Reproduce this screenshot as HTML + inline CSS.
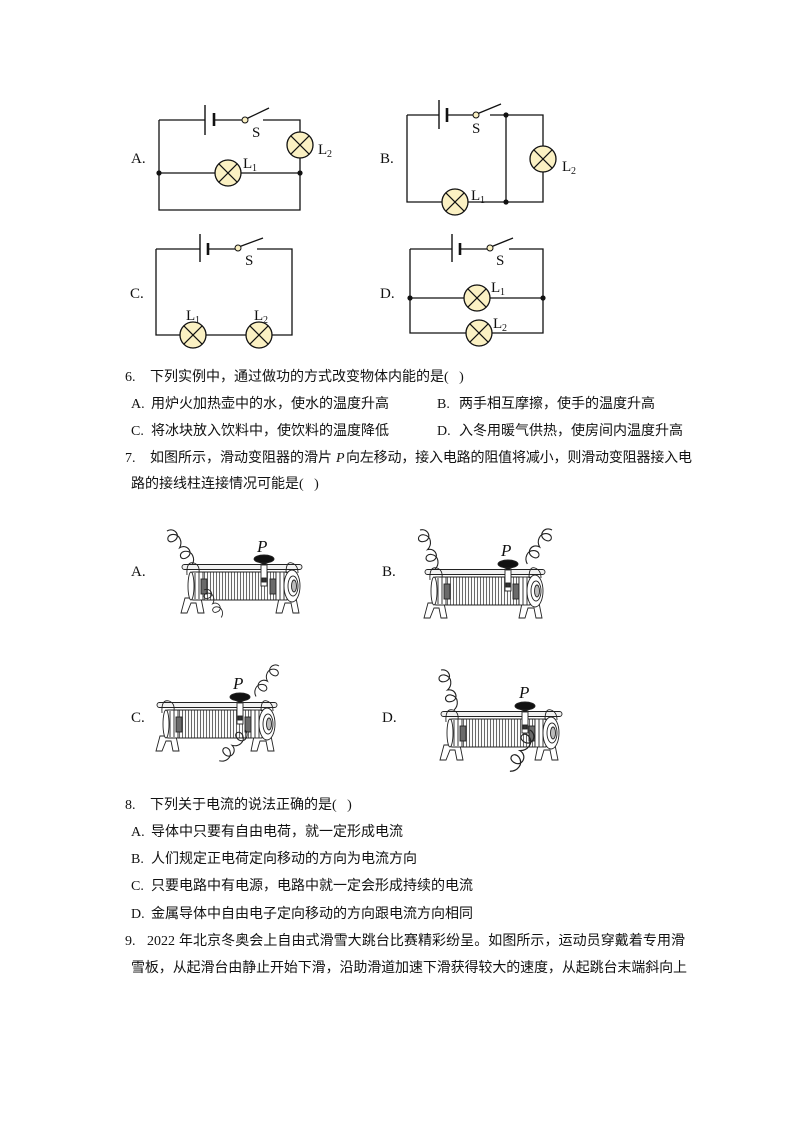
<!DOCTYPE html>
<html><head><meta charset="utf-8">
<style>
html,body{margin:0;padding:0;background:#fff;}
svg{display:block;}
.t{font-family:"Liberation Serif","Noto Sans CJK SC",sans-serif;font-size:14px;fill:#111;}
.lb{font-family:"Liberation Serif",serif;font-size:15px;fill:#111;}
.sb{font-family:"Liberation Serif",serif;font-size:10px;fill:#111;}
.p{font-family:"Liberation Serif",serif;font-size:17px;font-style:italic;fill:#111;}
.w{stroke:#111;stroke-width:1.3;fill:none;}
.lamp{fill:#fbf1c3;stroke:#111;stroke-width:1.3;}
.x{stroke:#111;stroke-width:1.2;}
.cw{stroke:#222;stroke-width:1;fill:none;}
</style></head>
<body>
<svg width="794" height="1123" viewBox="0 0 794 1123" xmlns="http://www.w3.org/2000/svg">
<defs>
<pattern id="coil" width="3" height="40" patternUnits="userSpaceOnUse">
<rect width="3" height="40" fill="#fbfbfb"/>
<line x1="1.5" y1="0" x2="1.5" y2="40" stroke="#444" stroke-width="0.8"/>
</pattern>
</defs>
<rect width="794" height="1123" fill="#fff"/>

<!-- ===== Circuit A ===== -->
<g>
<text class="lb" x="131" y="163">A.</text>
<path class="w" d="M159 120 H205 M214 120 H242 M263 120 H300 V132 M300 158 V210 H159 V120 M159 173 H215 M241 173 H300"/>
<line x1="205" y1="105" x2="205" y2="135" stroke="#111" stroke-width="1.4"/>
<line x1="214" y1="113" x2="214" y2="126" stroke="#111" stroke-width="2.6"/>
<line x1="247" y1="118.5" x2="269" y2="108" stroke="#111" stroke-width="1.3"/>
<circle cx="245" cy="120" r="3" fill="#fbf1c3" stroke="#111" stroke-width="1"/>
<circle class="lamp" cx="300" cy="145" r="13"/>
<path class="x" d="M290.8 135.8 L309.2 154.2 M309.2 135.8 L290.8 154.2"/>
<circle class="lamp" cx="228" cy="173" r="13"/>
<path class="x" d="M218.8 163.8 L237.2 182.2 M237.2 163.8 L218.8 182.2"/>
<circle cx="159" cy="173" r="2.6" fill="#111"/>
<circle cx="300" cy="173" r="2.6" fill="#111"/>
<text class="lb" x="252" y="137">S</text>
<text class="lb" x="318" y="154">L</text><text class="sb" x="327" y="157">2</text>
<text class="lb" x="243" y="168">L</text><text class="sb" x="252" y="171">1</text>
</g>

<!-- ===== Circuit B ===== -->
<g>
<text class="lb" x="380" y="163">B.</text>
<path class="w" d="M407 115 H439 M447 115 H473 M490 115 H543 V146 M543 172 V202 H468 M442 202 H407 V115 M506 115 V202"/>
<line x1="439" y1="100" x2="439" y2="129" stroke="#111" stroke-width="1.4"/>
<line x1="447" y1="108" x2="447" y2="122" stroke="#111" stroke-width="2.6"/>
<line x1="478" y1="113.5" x2="501" y2="104" stroke="#111" stroke-width="1.3"/>
<circle cx="476" cy="115" r="3" fill="#fbf1c3" stroke="#111" stroke-width="1"/>
<circle class="lamp" cx="543" cy="159" r="13"/>
<path class="x" d="M533.8 149.8 L552.2 168.2 M552.2 149.8 L533.8 168.2"/>
<circle class="lamp" cx="455" cy="202" r="13"/>
<path class="x" d="M445.8 192.8 L464.2 211.2 M464.2 192.8 L445.8 211.2"/>
<circle cx="506" cy="115" r="2.6" fill="#111"/>
<circle cx="506" cy="202" r="2.6" fill="#111"/>
<text class="lb" x="472" y="133">S</text>
<text class="lb" x="562" y="171">L</text><text class="sb" x="571" y="174">2</text>
<text class="lb" x="471" y="200">L</text><text class="sb" x="480" y="203">1</text>
</g>

<!-- ===== Circuit C ===== -->
<g>
<text class="lb" x="130" y="298">C.</text>
<path class="w" d="M156 249 H200 M208 249 H235 M257 249 H292 V335 H272 M246 335 H206 M180 335 H156 V249"/>
<line x1="200" y1="234" x2="200" y2="262" stroke="#111" stroke-width="1.4"/>
<line x1="208" y1="243" x2="208" y2="255" stroke="#111" stroke-width="2.6"/>
<line x1="240" y1="246.5" x2="263" y2="238" stroke="#111" stroke-width="1.3"/>
<circle cx="238" cy="248" r="3" fill="#fbf1c3" stroke="#111" stroke-width="1"/>
<circle class="lamp" cx="193" cy="335" r="13"/>
<path class="x" d="M183.8 325.8 L202.2 344.2 M202.2 325.8 L183.8 344.2"/>
<circle class="lamp" cx="259" cy="335" r="13"/>
<path class="x" d="M249.8 325.8 L268.2 344.2 M268.2 325.8 L249.8 344.2"/>
<text class="lb" x="245" y="265">S</text>
<text class="lb" x="186" y="320">L</text><text class="sb" x="195" y="323">1</text>
<text class="lb" x="254" y="320">L</text><text class="sb" x="263" y="323">2</text>
</g>

<!-- ===== Circuit D ===== -->
<g>
<text class="lb" x="380" y="298">D.</text>
<path class="w" d="M410 249 H452 M460 249 H487 M509 249 H543 V333 H492 M466 333 H410 V249 M410 298 H464 M490 298 H543"/>
<line x1="452" y1="234" x2="452" y2="262" stroke="#111" stroke-width="1.4"/>
<line x1="460" y1="243" x2="460" y2="255" stroke="#111" stroke-width="2.6"/>
<line x1="492" y1="246.5" x2="513" y2="238" stroke="#111" stroke-width="1.3"/>
<circle cx="490" cy="248" r="3" fill="#fbf1c3" stroke="#111" stroke-width="1"/>
<circle class="lamp" cx="477" cy="298" r="13"/>
<path class="x" d="M467.8 288.8 L486.2 307.2 M486.2 288.8 L467.8 307.2"/>
<circle class="lamp" cx="479" cy="333" r="13"/>
<path class="x" d="M469.8 323.8 L488.2 342.2 M488.2 323.8 L469.8 342.2"/>
<circle cx="410" cy="298" r="2.6" fill="#111"/>
<circle cx="543" cy="298" r="2.6" fill="#111"/>
<text class="lb" x="496" y="265">S</text>
<text class="lb" x="491" y="292">L</text><text class="sb" x="500" y="295">1</text>
<text class="lb" x="493" y="328">L</text><text class="sb" x="502" y="331">2</text>
</g>

<!-- ===== Question 6 ===== -->
<text class="t" x="125" y="381">6.</text>
<text class="t" x="150" y="381">下列实例中，通过做功的方式改变物体内能的是(&#160;&#160;&#160;)</text>
<text class="t" x="131" y="408">A.</text>
<text class="t" x="151" y="408">用炉火加热壶中的水，使水的温度升高</text>
<text class="t" x="437" y="408">B.</text>
<text class="t" x="459" y="408">两手相互摩擦，使手的温度升高</text>
<text class="t" x="131" y="435">C.</text>
<text class="t" x="151" y="435">将冰块放入饮料中，使饮料的温度降低</text>
<text class="t" x="437" y="435">D.</text>
<text class="t" x="459" y="435">入冬用暖气供热，使房间内温度升高</text>

<!-- ===== Question 7 ===== -->
<text class="t" x="125" y="462">7.</text>
<text class="t" x="150" y="462">如图所示，滑动变阻器的滑片</text>
<text class="t" x="336" y="462" font-style="italic">P</text>
<text class="t" x="346" y="462" textLength="346" lengthAdjust="spacing">向左移动，接入电路的阻值将减小，则滑动变阻器接入电</text>
<text class="t" x="131" y="488">路的接线柱连接情况可能是(&#160;&#160;&#160;)</text>

<!-- rheostat labels -->
<text class="lb" x="131" y="576">A.</text>
<text class="lb" x="382" y="576">B.</text>
<text class="lb" x="131" y="722">C.</text>
<text class="lb" x="382" y="722">D.</text>

<!-- ===== Rheostat A ===== -->
<g transform="translate(182,567)" stroke="#222" stroke-width="0.9">
<rect x="0" y="-2.5" width="120" height="5" rx="2.5" fill="#f2f2f2"/>
<path d="M3 31 L-1 46 L5 46 L9 36 L14 36 L16 46 L22 46 L19 31 Z" fill="#fff"/>
<path d="M97 31 L94 46 L100 46 L103 36 L109 36 L111 46 L117 46 L114 31 Z" fill="#fff"/>
<rect x="9" y="5" width="13" height="28" rx="2" fill="#fff"/>
<line x1="13" y1="6" x2="13" y2="32"/><line x1="17" y1="6" x2="17" y2="32"/>
<ellipse cx="9" cy="19" rx="3" ry="14" fill="#fff"/>
<path d="M5 8 Q4 -6 12 -4 Q18 -2 17 6" fill="none"/>
<rect x="21" y="5" width="73" height="28" fill="url(#coil)"/>
<line x1="21" y1="5" x2="94" y2="5"/><line x1="21" y1="33" x2="94" y2="33"/>
<rect x="19" y="12" width="6" height="15" fill="#6a6a6a"/>
<rect x="88" y="12" width="6" height="15" fill="#6a6a6a"/>
<rect x="94" y="5" width="11" height="28" fill="#fff"/>
<line x1="98" y1="5" x2="98" y2="33"/><line x1="102" y1="5" x2="102" y2="33"/>
<ellipse cx="110" cy="19" rx="8" ry="16" fill="#fff"/>
<ellipse cx="111" cy="19" rx="5" ry="10" fill="#fff"/>
<ellipse cx="112" cy="19" rx="2.5" ry="6" fill="#bbb"/>
<path d="M104 6 Q104 -6 110 -4 Q116 -2 116 6" fill="none"/>
<rect x="79" y="-3" width="6" height="22" fill="#fff"/>
<rect x="80" y="11" width="4" height="4" fill="#333"/>
<rect x="80" y="-7" width="4" height="5" fill="#111"/>
<ellipse cx="82" cy="-8" rx="10" ry="4" fill="#111"/>
</g>
<text class="p" x="257" y="552">P</text>
<path class="cw" transform="translate(167,531) rotate(-31) scale(1.1)" d="M0 0 c8 0 9 11 1 11 c-7 0 -5 -8 1 -6 c7 3 5 11 0 14 c8 0 9 11 1 11 c-7 0 -5 -8 1 -6 c7 3 5 11 0 14"/>
<path class="cw" transform="translate(204,590) rotate(-26) scale(0.85)" d="M0 0 c8 0 9 11 1 11 c-7 0 -5 -8 1 -6 c7 3 5 11 0 14 c8 0 9 11 1 11 c-7 0 -5 -8 1 -6 c7 3 5 11 0 14"/>

<!-- ===== Rheostat B ===== -->
<g transform="translate(425,572)" stroke="#222" stroke-width="0.9">
<rect x="0" y="-2.5" width="120" height="5" rx="2.5" fill="#f2f2f2"/>
<path d="M3 31 L-1 46 L5 46 L9 36 L14 36 L16 46 L22 46 L19 31 Z" fill="#fff"/>
<path d="M97 31 L94 46 L100 46 L103 36 L109 36 L111 46 L117 46 L114 31 Z" fill="#fff"/>
<rect x="9" y="5" width="13" height="28" rx="2" fill="#fff"/>
<line x1="13" y1="6" x2="13" y2="32"/><line x1="17" y1="6" x2="17" y2="32"/>
<ellipse cx="9" cy="19" rx="3" ry="14" fill="#fff"/>
<path d="M5 8 Q4 -6 12 -4 Q18 -2 17 6" fill="none"/>
<rect x="21" y="5" width="73" height="28" fill="url(#coil)"/>
<line x1="21" y1="5" x2="94" y2="5"/><line x1="21" y1="33" x2="94" y2="33"/>
<rect x="19" y="12" width="6" height="15" fill="#6a6a6a"/>
<rect x="88" y="12" width="6" height="15" fill="#6a6a6a"/>
<rect x="94" y="5" width="11" height="28" fill="#fff"/>
<line x1="98" y1="5" x2="98" y2="33"/><line x1="102" y1="5" x2="102" y2="33"/>
<ellipse cx="110" cy="19" rx="8" ry="16" fill="#fff"/>
<ellipse cx="111" cy="19" rx="5" ry="10" fill="#fff"/>
<ellipse cx="112" cy="19" rx="2.5" ry="6" fill="#bbb"/>
<path d="M104 6 Q104 -6 110 -4 Q116 -2 116 6" fill="none"/>
<rect x="80" y="-3" width="6" height="22" fill="#fff"/>
<rect x="81" y="11" width="4" height="4" fill="#333"/>
<rect x="81" y="-7" width="4" height="5" fill="#111"/>
<ellipse cx="83" cy="-8" rx="10" ry="4" fill="#111"/>
</g>
<text class="p" x="501" y="556">P</text>
<path class="cw" transform="translate(420,530) rotate(-15) scale(1.1)" d="M0 0 c8 0 9 11 1 11 c-7 0 -5 -8 1 -6 c7 3 5 11 0 14 c8 0 9 11 1 11 c-7 0 -5 -8 1 -6 c7 3 5 11 0 14"/>
<path class="cw" transform="translate(552,530) rotate(30) scale(-1.1,1.1)" d="M0 0 c8 0 9 11 1 11 c-7 0 -5 -8 1 -6 c7 3 5 11 0 14 c8 0 9 11 1 11 c-7 0 -5 -8 1 -6 c7 3 5 11 0 14"/>

<!-- ===== Rheostat C ===== -->
<g transform="translate(157,705)" stroke="#222" stroke-width="0.9">
<rect x="0" y="-2.5" width="120" height="5" rx="2.5" fill="#f2f2f2"/>
<path d="M3 31 L-1 46 L5 46 L9 36 L14 36 L16 46 L22 46 L19 31 Z" fill="#fff"/>
<path d="M97 31 L94 46 L100 46 L103 36 L109 36 L111 46 L117 46 L114 31 Z" fill="#fff"/>
<rect x="9" y="5" width="13" height="28" rx="2" fill="#fff"/>
<line x1="13" y1="6" x2="13" y2="32"/><line x1="17" y1="6" x2="17" y2="32"/>
<ellipse cx="9" cy="19" rx="3" ry="14" fill="#fff"/>
<path d="M5 8 Q4 -6 12 -4 Q18 -2 17 6" fill="none"/>
<rect x="21" y="5" width="73" height="28" fill="url(#coil)"/>
<line x1="21" y1="5" x2="94" y2="5"/><line x1="21" y1="33" x2="94" y2="33"/>
<rect x="19" y="12" width="6" height="15" fill="#6a6a6a"/>
<rect x="88" y="12" width="6" height="15" fill="#6a6a6a"/>
<rect x="94" y="5" width="11" height="28" fill="#fff"/>
<line x1="98" y1="5" x2="98" y2="33"/><line x1="102" y1="5" x2="102" y2="33"/>
<ellipse cx="110" cy="19" rx="8" ry="16" fill="#fff"/>
<ellipse cx="111" cy="19" rx="5" ry="10" fill="#fff"/>
<ellipse cx="112" cy="19" rx="2.5" ry="6" fill="#bbb"/>
<path d="M104 6 Q104 -6 110 -4 Q116 -2 116 6" fill="none"/>
<rect x="80" y="-3" width="6" height="22" fill="#fff"/>
<rect x="81" y="11" width="4" height="4" fill="#333"/>
<rect x="81" y="-7" width="4" height="5" fill="#111"/>
<ellipse cx="83" cy="-8" rx="10" ry="4" fill="#111"/>
</g>
<text class="p" x="233" y="689">P</text>
<path class="cw" transform="translate(279,666) rotate(31) scale(-1,1)" d="M0 0 c8 0 9 11 1 11 c-7 0 -5 -8 1 -6 c7 3 5 11 0 14 c8 0 9 11 1 11 c-7 0 -5 -8 1 -6 c7 3 5 11 0 14"/>
<path class="cw" transform="translate(245,730) rotate(46) scale(1.05)" d="M0 0 c8 0 9 11 1 11 c-7 0 -5 -8 1 -6 c7 3 5 11 0 14 c8 0 9 11 1 11 c-7 0 -5 -8 1 -6 c7 3 5 11 0 14"/>

<!-- ===== Rheostat D ===== -->
<g transform="translate(441,714)" stroke="#222" stroke-width="0.9">
<rect x="0" y="-2.5" width="121" height="5" rx="2.5" fill="#f2f2f2"/>
<path d="M3 31 L-1 46 L5 46 L9 36 L14 36 L16 46 L22 46 L19 31 Z" fill="#fff"/>
<path d="M97 31 L94 46 L100 46 L103 36 L109 36 L111 46 L117 46 L114 31 Z" fill="#fff"/>
<rect x="9" y="5" width="13" height="28" rx="2" fill="#fff"/>
<line x1="13" y1="6" x2="13" y2="32"/><line x1="17" y1="6" x2="17" y2="32"/>
<ellipse cx="9" cy="19" rx="3" ry="14" fill="#fff"/>
<path d="M5 8 Q4 -6 12 -4 Q18 -2 17 6" fill="none"/>
<rect x="21" y="5" width="73" height="28" fill="url(#coil)"/>
<line x1="21" y1="5" x2="94" y2="5"/><line x1="21" y1="33" x2="94" y2="33"/>
<rect x="19" y="12" width="6" height="15" fill="#6a6a6a"/>
<rect x="88" y="12" width="6" height="15" fill="#6a6a6a"/>
<rect x="94" y="5" width="11" height="28" fill="#fff"/>
<line x1="98" y1="5" x2="98" y2="33"/><line x1="102" y1="5" x2="102" y2="33"/>
<ellipse cx="110" cy="19" rx="8" ry="16" fill="#fff"/>
<ellipse cx="111" cy="19" rx="5" ry="10" fill="#fff"/>
<ellipse cx="112" cy="19" rx="2.5" ry="6" fill="#bbb"/>
<path d="M104 6 Q104 -6 110 -4 Q116 -2 116 6" fill="none"/>
<rect x="81" y="-3" width="6" height="22" fill="#fff"/>
<rect x="82" y="11" width="4" height="4" fill="#333"/>
<rect x="82" y="-7" width="4" height="5" fill="#111"/>
<ellipse cx="84" cy="-8" rx="10" ry="4" fill="#111"/>
</g>
<text class="p" x="519" y="698">P</text>
<path class="cw" transform="translate(441,670) rotate(-12) scale(1.1)" d="M0 0 c8 0 9 11 1 11 c-7 0 -5 -8 1 -6 c7 3 5 11 0 14 c8 0 9 11 1 11 c-7 0 -5 -8 1 -6 c7 3 5 11 0 14"/>
<path class="cw" transform="translate(530,730) rotate(32) scale(1.2)" d="M0 0 c8 0 9 11 1 11 c-7 0 -5 -8 1 -6 c7 3 5 11 0 14 c8 0 9 11 1 11 c-7 0 -5 -8 1 -6 c7 3 5 11 0 14"/>

<!-- ===== Question 8 ===== -->
<text class="t" x="125" y="809">8.</text>
<text class="t" x="150" y="809">下列关于电流的说法正确的是(&#160;&#160;&#160;)</text>
<text class="t" x="131" y="836">A.</text>
<text class="t" x="151" y="836">导体中只要有自由电荷，就一定形成电流</text>
<text class="t" x="131" y="863">B.</text>
<text class="t" x="151" y="863">人们规定正电荷定向移动的方向为电流方向</text>
<text class="t" x="131" y="890">C.</text>
<text class="t" x="151" y="890">只要电路中有电源，电路中就一定会形成持续的电流</text>
<text class="t" x="131" y="918">D.</text>
<text class="t" x="151" y="918">金属导体中自由电子定向移动的方向跟电流方向相同</text>

<!-- ===== Question 9 ===== -->
<text class="t" x="125" y="945">9.</text>
<text class="t" x="147" y="945">2022</text>
<text class="t" x="179" y="945" textLength="506" lengthAdjust="spacing">年北京冬奥会上自由式滑雪大跳台比赛精彩纷呈。如图所示，运动员穿戴着专用滑</text>
<text class="t" x="131" y="972" textLength="556" lengthAdjust="spacing">雪板，从起滑台由静止开始下滑，沿助滑道加速下滑获得较大的速度，从起跳台末端斜向上</text>
</svg>
</body></html>
